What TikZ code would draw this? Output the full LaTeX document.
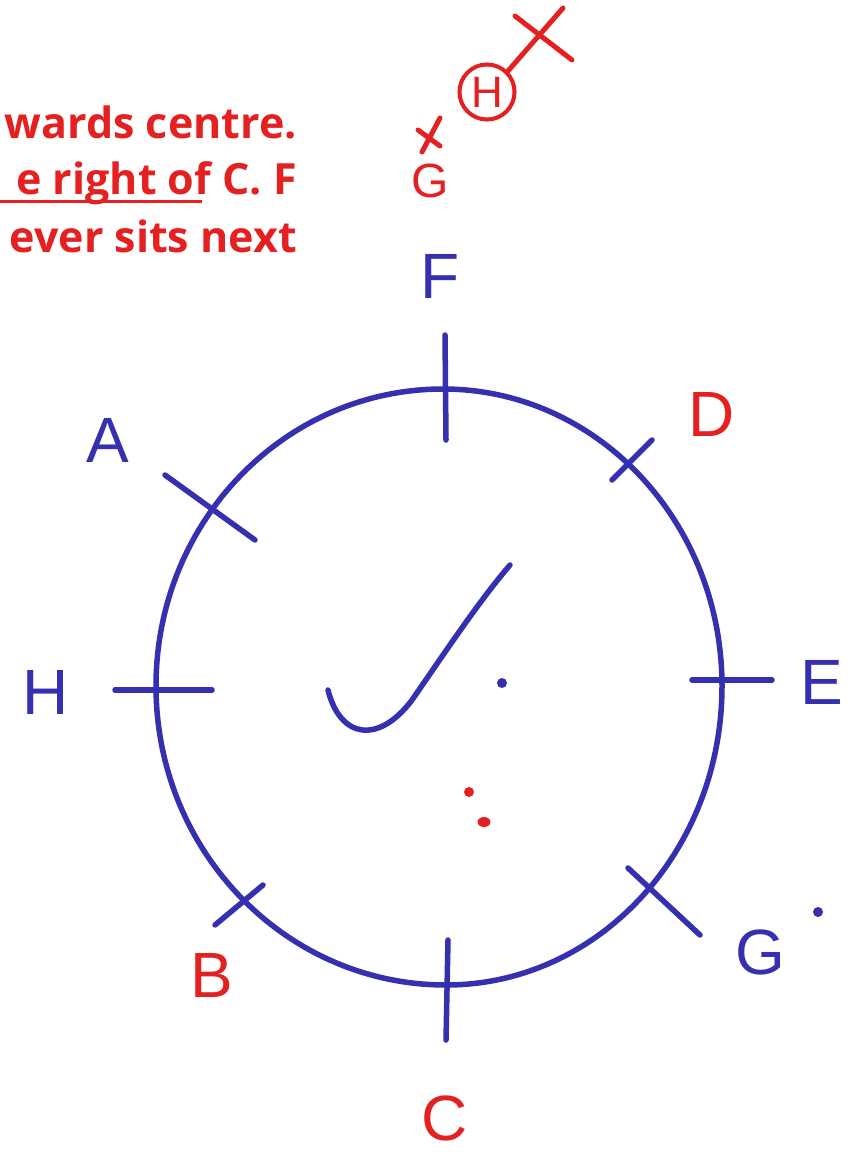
\documentclass[tikz,border=0pt]{standalone}
\usepackage{fontspec}
\newfontfamily\notefont{Open Sans}
\newfontfamily\handfont{Liberation Sans}
\definecolor{penblue}{RGB}{52,48,175}
\definecolor{penred}{RGB}{228,32,32}
\begin{document}
\begin{tikzpicture}[x=1pt,y=-1pt,
  bluepen/.style={draw=penblue,line width=5.5pt,line cap=round,line join=round},
  redpen/.style={draw=penred,line width=5pt,line cap=round,line join=round},
  bluelbl/.style={text=penblue,font=\handfont\fontsize{64}{64}\selectfont,inner sep=0pt},
  redlbl/.style={text=penred,font=\handfont\fontsize{64}{64}\selectfont,inner sep=0pt},
  notetxt/.style={text=penred,font=\notefont\bfseries\fontsize{43}{43}\selectfont,anchor=base east,inner sep=0pt}]
\useasboundingbox (0,0) rectangle (856,1166);
\fill[white] (0,0) rectangle (856,1166);
% note text (visible part only)
\node[notetxt] (n1) at (297,139) {wards centre.};
\node[notetxt] (n2) at (297,195) {e right of C. F};
\node[notetxt] (n3) at (297,252) {ever sits next};
\draw[penred,line width=3pt] (0,202) -- (202,202);
% circle (four quarter arcs of slightly different radii)
\coordinate (ctop) at (443,389);
\draw[bluepen] (ctop)
  arc[start angle=-90,end angle=0,x radius=279,y radius=297]
  arc[start angle=0,end angle=90,x radius=276,y radius=299]
  arc[start angle=90,end angle=180,x radius=290,y radius=299]
  arc[start angle=180,end angle=270,x radius=287,y radius=297] -- cycle;
% ticks
\draw[bluepen] (445,335) -- (446,440);
\draw[bluepen] (612,480) -- (652,440);
\draw[bluepen] (165,475) -- (255,540);
\draw[bluepen] (115,690) -- (212,690);
\draw[bluepen] (692,680) -- (772,680);
\draw[bluepen] (628,868) -- (700,935);
\draw[bluepen] (448,940) -- (446,1040);
\draw[bluepen] (215,925) -- (263,885);
% labels
\node[bluelbl] (F) at (440,276) {F};
\node[redlbl] (D) at (712,414) {D};
\node[bluelbl] (A) at (108,440) {A};
\node[bluelbl] (H) at (46,692) {H};
\node[bluelbl] (E) at (822,682) {E};
\node[bluelbl] (G) at (760,952) {G};
\node[redlbl] (B) at (212,975) {B};
\node[redlbl] (C) at (445,1118) {C};
% check mark
\draw[bluepen] (328,690) .. controls (340,738) and (378,745) .. (412,700)
  .. controls (450,645) and (480,600) .. (510,565);
% dots
\fill[penblue] (502,683) circle (5pt);
\fill[penred] (469,792) circle (5pt);
\fill[penred] (484,822) ellipse (6.5pt and 5pt);
\fill[penblue] (818,912) circle (5pt);
% top red marks
\node[redlbl,font=\handfont\fontsize{48}{48}\selectfont] (G2) at (430,181) {G};
\node[redlbl,font=\handfont\fontsize{44}{44}\selectfont,draw=penred,line width=4pt,circle,inner sep=4pt] (H2) at (487,92) {H};
\draw[redpen] (418,130) -- (440,146);
\draw[redpen] (422,152) -- (440,118);
\draw[redpen] (515,16) -- (572,60);
\draw[redpen] (563,8) -- (H2.north east);
\end{tikzpicture}
\end{document}
